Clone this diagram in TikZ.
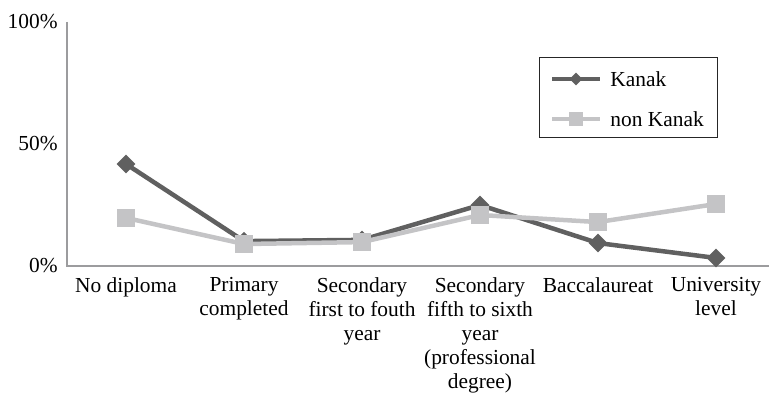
\documentclass[tikz,border=0pt]{standalone}
\usepackage{fontspec}
\setmainfont{Liberation Serif}
\usetikzlibrary{positioning, shapes.geometric}

\definecolor{kanakgray}{HTML}{606060}
\definecolor{nonkanakgray}{HTML}{C4C4C6}
\definecolor{axisgray}{HTML}{9C9C9E}

\tikzset{
  axisline/.style={draw=axisgray, line width=1pt},
  kanakline/.style={draw=kanakgray, line width=2.25pt},
  nonkanakline/.style={draw=nonkanakgray, line width=2.25pt},
  kanakmark/.style={diamond, fill=kanakgray, minimum size=9.5pt, inner sep=0pt},
  nonkanakmark/.style={rectangle, fill=nonkanakgray, minimum size=9pt, inner sep=0pt},
  catlabel/.style={anchor=north, align=center},
  legendbox/.style={draw=black!85, line width=0.6pt, anchor=north west}
}

\begin{document}
\begin{tikzpicture}[x=0.5pt, y=-0.5pt, every node/.style={font=\fontsize{10.7}{12}\selectfont, inner sep=0pt}]
  \useasboundingbox (0,0) rectangle (769,399);

  % Axes
  \coordinate (ytop) at (67,22);
  \coordinate (origin) at (67,266);
  \coordinate (xend) at (769,266);
  \draw[axisline] (ytop) -- (origin) -- (xend);

  % Percent labels
  \node[anchor=east] (y0) at (58,266) {0\%};
  \node[anchor=east] (y50) at (58,144) {50\%};
  \node[anchor=east] (y100) at (58,22) {100\%};

  % Categories
  \foreach \i/\lab in {1/No diploma, 2/Primary\\completed, 3/Secondary\\first to fouth\\year,
      4/Secondary\\fifth to sixth\\year\\(professional\\degree), 5/Baccalaureat, 6/University\\level} {
    \node[catlabel] (cat\i) at ({67+118*(\i-0.5)},277) {\lab};
  }

  % Data points
  \begin{scope}[shift={(67,266)}, x=59pt, y=1.22pt]
    \foreach \i/\k/\n in {1/41.8/19.7, 2/10.2/9.0, 3/10.7/9.8, 4/25.0/20.9, 5/9.4/18.0, 6/3.3/25.4} {
      \coordinate (k\i) at (\i-0.5,\k);
      \coordinate (n\i) at (\i-0.5,\n);
    }
  \end{scope}

  % Kanak
  \draw[kanakline] (k1) -- (k2) -- (k3) -- (k4) -- (k5) -- (k6);
  \foreach \i in {1,...,6} \node[kanakmark] (km\i) at (k\i) {};

  % non Kanak
  \draw[nonkanakline] (n1) -- (n2) -- (n3) -- (n4) -- (n5) -- (n6);
  \foreach \i in {1,...,6} \node[nonkanakmark] (nm\i) at (n\i) {};

  % Legend
  \node[legendbox, minimum width=89pt, minimum height=40pt] (legend) at (539,57) {};
  \coordinate (la1) at (552,79);
  \coordinate (lb1) at (600,79);
  \coordinate (la2) at (552,119);
  \coordinate (lb2) at (600,119);
  \draw[kanakline] (la1) -- (lb1);
  \node[kanakmark, minimum size=6.5pt] (lm1) at (576,79) {};
  \draw[nonkanakline] (la2) -- (lb2);
  \node[nonkanakmark, minimum size=7pt] (lm2) at (576,119) {};
  \node[right=5pt of lb1] (lt1) {Kanak};
  \node[right=5pt of lb2] (lt2) {non Kanak};
\end{tikzpicture}
\end{document}
